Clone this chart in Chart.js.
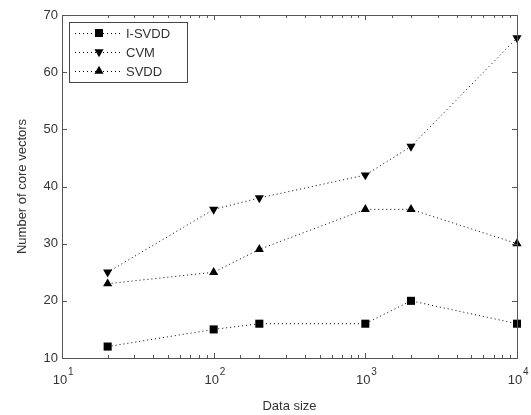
<!DOCTYPE html>
<html>
<head>
<meta charset="utf-8">
<script src="https://cdn.jsdelivr.net/npm/chart.js@4"></script>
<style>
  html, body { margin: 0; padding: 0; background: #fff; }
  #wrap { width: 531px; height: 415px; }
</style>
</head>
<body>
<div id="wrap"><canvas id="c" width="531" height="415"></canvas></div>
<script>
/* ---------- data ---------- */
const sizes   = [20, 100, 200, 1000, 2000, 10000];
const isvdd   = [12, 15, 16, 16, 20, 16];
const cvm     = [25, 36, 38, 42, 47, 66];
const svdd    = [23, 25, 29, 36, 36, 30];
const yTicks  = [10, 20, 30, 40, 50, 60, 70];
const xMajors = [10, 100, 1000, 10000];

const FONT = '"Liberation Sans", Arial, sans-serif';
const INK  = '#333';

function series(label, vals, style, r, rot) {
  return {
    label,
    data: sizes.map((x, i) => ({ x, y: vals[i] })),
    borderColor: '#000',
    backgroundColor: '#000',
    borderWidth: 1,
    borderDash: [1, 3],
    pointStyle: style,
    pointRadius: r,
    pointRotation: rot,
    pointBorderWidth: 0,
    tension: 0,
    clip: false,
  };
}

/* ---------- frame, inward ticks, labels, legend ---------- */
const framePlugin = {
  id: 'frame',
  afterDraw(chart) {
    const { ctx, chartArea: a, scales } = chart;
    const xs = scales.x, ys = scales.y;
    ctx.save();
    ctx.strokeStyle = '#555';
    ctx.lineWidth = 1;
    ctx.strokeRect(a.left + 0.5, a.top + 0.5, a.right - a.left, a.bottom - a.top);

    /* x ticks: majors 5px, minors 3px, top and bottom */
    ctx.beginPath();
    xs.ticks.forEach(t => {
      const px = Math.round(xs.getPixelForValue(t.value)) + 0.5;
      const len = xMajors.includes(t.value) ? 5 : 3;
      ctx.moveTo(px, a.bottom); ctx.lineTo(px, a.bottom - len);
      ctx.moveTo(px, a.top);    ctx.lineTo(px, a.top + len);
    });
    yTicks.forEach(v => {
      const py = Math.round(ys.getPixelForValue(v)) + 0.5;
      ctx.moveTo(a.left, py);  ctx.lineTo(a.left + 5, py);
      ctx.moveTo(a.right, py); ctx.lineTo(a.right - 5, py);
    });
    ctx.stroke();

    /* y labels */
    ctx.fillStyle = INK;
    ctx.font = '13px ' + FONT;
    ctx.textAlign = 'right';
    ctx.textBaseline = 'middle';
    yTicks.forEach(v => ctx.fillText(String(v), a.left - 4, ys.getPixelForValue(v)));

    /* x labels 10^n */
    xMajors.forEach(v => {
      const px = xs.getPixelForValue(v);
      ctx.font = '13px ' + FONT;
      ctx.textAlign = 'center';
      ctx.textBaseline = 'alphabetic';
      ctx.fillText('10', px - 2, a.bottom + 26);
      ctx.font = '10px ' + FONT;
      ctx.textAlign = 'left';
      ctx.fillText(String(Math.round(Math.log10(v))), px + 6, a.bottom + 17);
    });

    /* axis titles */
    ctx.font = '13px ' + FONT;
    ctx.textAlign = 'center';
    ctx.fillText('Data size', (a.left + a.right) / 2, 410);
    ctx.save();
    ctx.translate(22, (a.top + a.bottom) / 2);
    ctx.rotate(-Math.PI / 2);
    ctx.textBaseline = 'middle';
    ctx.fillText('Number of core vectors', 0, 0);
    ctx.restore();

    /* legend box */
    const lx = a.left + 7, ly = a.top + 7, lw = 118, lh = 60;
    ctx.fillStyle = '#fff';
    ctx.fillRect(lx, ly, lw, lh);
    ctx.strokeStyle = '#444';
    ctx.strokeRect(lx + 0.5, ly + 0.5, lw, lh);
    chart.data.datasets.forEach((ds, i) => {
      const cy = ly + 11 + i * 19;
      ctx.strokeStyle = '#000';
      ctx.setLineDash([1, 3]);
      ctx.beginPath();
      ctx.moveTo(lx + 6, cy + 0.5); ctx.lineTo(lx + 52, cy + 0.5);
      ctx.stroke();
      ctx.setLineDash([]);
      ctx.fillStyle = '#000';
      Chart.helpers.drawPoint(ctx, {
        pointStyle: ds.pointStyle, radius: ds.pointRadius,
        rotation: ds.pointRotation, borderWidth: 0
      }, lx + 30, cy);
      ctx.fillStyle = INK;
      ctx.font = '13px ' + FONT;
      ctx.textAlign = 'left';
      ctx.textBaseline = 'middle';
      ctx.fillText(ds.label, lx + 57, cy + 1);
    });
    ctx.restore();
  }
};

new Chart(document.getElementById('c'), {
  type: 'line',
  data: {
    datasets: [
      series('I-SVDD', isvdd, 'rect', 5.7, 0),
      series('CVM', cvm, 'triangle', 5.3, 180),
      series('SVDD', svdd, 'triangle', 5.3, 0),
    ]
  },
  options: {
    responsive: false,
    animation: false,
    devicePixelRatio: 1,
    layout: { padding: { left: 54, top: 15, right: 14, bottom: 49 } },
    plugins: { legend: { display: false }, tooltip: { enabled: false } },
    scales: {
      x: {
        type: 'logarithmic', min: 10, max: 10000,
        ticks: { display: false }, grid: { display: false }, border: { display: false }
      },
      y: {
        type: 'linear', min: 10, max: 70,
        ticks: { display: false, stepSize: 10 }, grid: { display: false }, border: { display: false }
      }
    }
  },
  plugins: [framePlugin]
});
</script>
</body>
</html>
